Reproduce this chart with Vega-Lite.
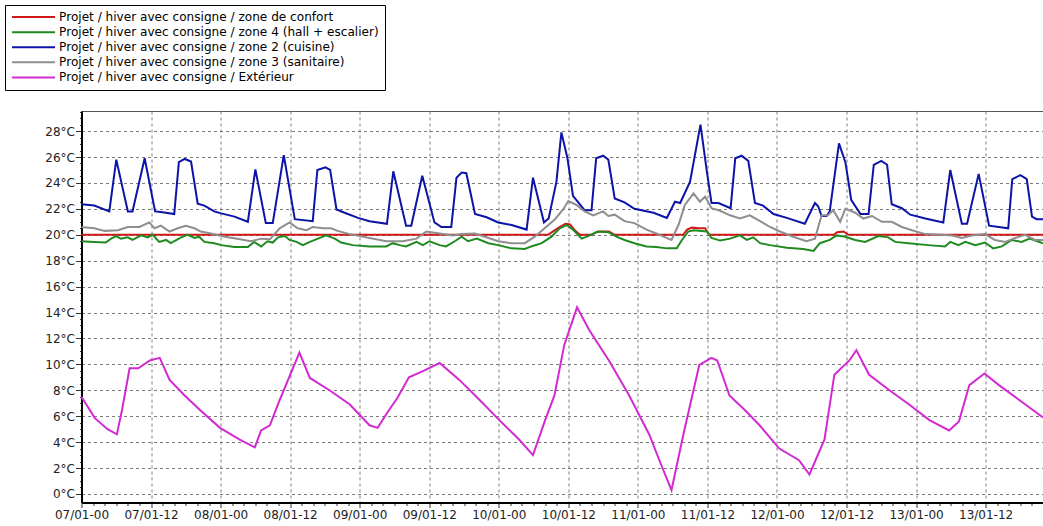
{
  "$schema": "https://vega.github.io/schema/vega-lite/v6.json",
  "width": 961.5,
  "height": 391.5,
  "autosize": {"type": "none"},
  "padding": {"left": 81.5, "top": 111, "right": 0, "bottom": 23.5},
  "background": "white",
  "config": {
    "font": "DejaVu Sans",
    "view": {"stroke": "#555555", "strokeWidth": 1}
  },
  "datasets": {
    "red": [
      {"h": 0, "t": 20}, {"h": 80.5, "t": 20}, {"h": 81.5, "t": 20.3}, {"h": 82.5, "t": 20.6}, {"h": 83.5, "t": 20.85}, {"h": 84.3, "t": 20.8}, {"h": 85.2, "t": 20.3}, {"h": 86, "t": 20}, {"h": 88, "t": 20}, {"h": 88.8, "t": 20.2}, {"h": 89.5, "t": 20.25}, {"h": 91, "t": 20.25}, {"h": 92, "t": 20}, {"h": 103.8, "t": 20}, {"h": 104.5, "t": 20.4}, {"h": 105.3, "t": 20.55}, {"h": 106.5, "t": 20.5}, {"h": 107.6, "t": 20.5}, {"h": 108.3, "t": 20}, {"h": 129.8, "t": 20}, {"h": 130.4, "t": 20.2}, {"h": 131.5, "t": 20.25}, {"h": 132.3, "t": 20}, {"h": 165.9, "t": 20}
    ],
    "green": [
      {"h": 0, "t": 19.5}, {"h": 2.2, "t": 19.45}, {"h": 4.2, "t": 19.4}, {"h": 5.1, "t": 19.7}, {"h": 6.0, "t": 19.9}, {"h": 6.8, "t": 19.7}, {"h": 8.0, "t": 19.8}, {"h": 8.8, "t": 19.6}, {"h": 10.3, "t": 19.95}, {"h": 11.4, "t": 19.8}, {"h": 12.3, "t": 20.0}, {"h": 13.4, "t": 19.45}, {"h": 14.6, "t": 19.6}, {"h": 15.4, "t": 19.35}, {"h": 17.2, "t": 19.8}, {"h": 18.3, "t": 20.0}, {"h": 19.5, "t": 19.75}, {"h": 20.3, "t": 19.85}, {"h": 21.2, "t": 19.45}, {"h": 22.9, "t": 19.35}, {"h": 24.1, "t": 19.2}, {"h": 26.4, "t": 19.05}, {"h": 28.7, "t": 19.05}, {"h": 29.8, "t": 19.45}, {"h": 31.0, "t": 19.1}, {"h": 32.1, "t": 19.5}, {"h": 33.0, "t": 19.4}, {"h": 33.9, "t": 19.8}, {"h": 35.1, "t": 19.9}, {"h": 35.9, "t": 19.6}, {"h": 37.1, "t": 19.45}, {"h": 38.2, "t": 19.2}, {"h": 39.4, "t": 19.45}, {"h": 40.8, "t": 19.7}, {"h": 42.2, "t": 19.95}, {"h": 43.7, "t": 19.7}, {"h": 44.8, "t": 19.4}, {"h": 46.8, "t": 19.2}, {"h": 49.7, "t": 19.1}, {"h": 52.6, "t": 19.1}, {"h": 53.7, "t": 19.35}, {"h": 54.9, "t": 19.2}, {"h": 56.0, "t": 19.1}, {"h": 57.8, "t": 19.45}, {"h": 58.9, "t": 19.2}, {"h": 60.05, "t": 19.5}, {"h": 61.8, "t": 19.2}, {"h": 62.9, "t": 19.1}, {"h": 64.4, "t": 19.5}, {"h": 65.6, "t": 19.85}, {"h": 66.7, "t": 19.5}, {"h": 68.2, "t": 19.7}, {"h": 70.2, "t": 19.35}, {"h": 71.9, "t": 19.2}, {"h": 74.2, "t": 18.95}, {"h": 76.5, "t": 18.9}, {"h": 77.6, "t": 19.1}, {"h": 79.4, "t": 19.35}, {"h": 81.1, "t": 19.85}, {"h": 82.5, "t": 20.5}, {"h": 83.7, "t": 20.75}, {"h": 84.8, "t": 20.4}, {"h": 86.3, "t": 19.7}, {"h": 87.7, "t": 19.95}, {"h": 89.1, "t": 20.25}, {"h": 90.9, "t": 20.2}, {"h": 92.3, "t": 19.85}, {"h": 93.7, "t": 19.6}, {"h": 95.4, "t": 19.35}, {"h": 97.5, "t": 19.1}, {"h": 99.2, "t": 19.05}, {"h": 101.0, "t": 18.95}, {"h": 102.7, "t": 18.95}, {"h": 103.6, "t": 19.6}, {"h": 104.7, "t": 20.25}, {"h": 105.6, "t": 20.35}, {"h": 107.9, "t": 20.25}, {"h": 108.7, "t": 19.75}, {"h": 110.2, "t": 19.55}, {"h": 111.9, "t": 19.7}, {"h": 113.6, "t": 19.95}, {"h": 114.8, "t": 19.6}, {"h": 115.9, "t": 19.8}, {"h": 117.1, "t": 19.35}, {"h": 118.8, "t": 19.2}, {"h": 121.7, "t": 19.0}, {"h": 124.5, "t": 18.9}, {"h": 126.3, "t": 18.75}, {"h": 127.4, "t": 19.35}, {"h": 129.1, "t": 19.6}, {"h": 130.3, "t": 19.95}, {"h": 131.8, "t": 19.85}, {"h": 133.5, "t": 19.6}, {"h": 135.2, "t": 19.45}, {"h": 137.5, "t": 19.9}, {"h": 139.2, "t": 19.8}, {"h": 140.4, "t": 19.45}, {"h": 142.7, "t": 19.35}, {"h": 146.1, "t": 19.2}, {"h": 149.0, "t": 19.1}, {"h": 149.9, "t": 19.45}, {"h": 151.3, "t": 19.2}, {"h": 152.5, "t": 19.45}, {"h": 154.2, "t": 19.2}, {"h": 155.9, "t": 19.4}, {"h": 157.3, "t": 18.95}, {"h": 158.8, "t": 19.1}, {"h": 160.5, "t": 19.6}, {"h": 162.2, "t": 19.45}, {"h": 163.6, "t": 19.7}, {"h": 165.9, "t": 19.35}
    ],
    "blue": [
      {"h": 0, "t": 22.35}, {"h": 2.2, "t": 22.25}, {"h": 4.8, "t": 21.8}, {"h": 6.0, "t": 25.8}, {"h": 8.0, "t": 21.8}, {"h": 8.8, "t": 21.8}, {"h": 10.9, "t": 25.9}, {"h": 12.7, "t": 21.8}, {"h": 13.7, "t": 21.75}, {"h": 16.0, "t": 21.6}, {"h": 16.8, "t": 25.6}, {"h": 17.8, "t": 25.85}, {"h": 18.9, "t": 25.65}, {"h": 20.05, "t": 22.4}, {"h": 21.2, "t": 22.25}, {"h": 22.9, "t": 21.8}, {"h": 24.1, "t": 21.65}, {"h": 26.4, "t": 21.4}, {"h": 28.7, "t": 21.0}, {"h": 30.0, "t": 25.05}, {"h": 31.8, "t": 20.9}, {"h": 33.0, "t": 20.9}, {"h": 34.9, "t": 26.15}, {"h": 36.8, "t": 21.2}, {"h": 39.9, "t": 21.05}, {"h": 40.7, "t": 25.0}, {"h": 42.1, "t": 25.2}, {"h": 42.9, "t": 25.0}, {"h": 44.0, "t": 21.95}, {"h": 45.4, "t": 21.7}, {"h": 47.7, "t": 21.3}, {"h": 49.7, "t": 21.05}, {"h": 52.7, "t": 20.85}, {"h": 53.8, "t": 24.9}, {"h": 56.0, "t": 20.7}, {"h": 56.9, "t": 20.7}, {"h": 58.8, "t": 24.55}, {"h": 60.9, "t": 20.95}, {"h": 62.1, "t": 20.6}, {"h": 63.8, "t": 20.6}, {"h": 64.7, "t": 24.4}, {"h": 65.6, "t": 24.8}, {"h": 66.4, "t": 24.75}, {"h": 67.9, "t": 21.6}, {"h": 69.9, "t": 21.35}, {"h": 71.9, "t": 20.95}, {"h": 74.2, "t": 20.75}, {"h": 76.8, "t": 20.4}, {"h": 77.9, "t": 24.4}, {"h": 79.8, "t": 20.95}, {"h": 80.6, "t": 21.25}, {"h": 81.95, "t": 24.1}, {"h": 82.8, "t": 27.9}, {"h": 83.85, "t": 25.9}, {"h": 84.8, "t": 23.0}, {"h": 86.8, "t": 21.9}, {"h": 88.0, "t": 21.9}, {"h": 88.8, "t": 25.9}, {"h": 90.0, "t": 26.1}, {"h": 90.9, "t": 25.8}, {"h": 92.0, "t": 22.8}, {"h": 93.7, "t": 22.5}, {"h": 95.4, "t": 22.0}, {"h": 98.7, "t": 21.7}, {"h": 101.0, "t": 21.3}, {"h": 102.4, "t": 22.55}, {"h": 103.3, "t": 22.45}, {"h": 105.0, "t": 24.1}, {"h": 106.8, "t": 28.5}, {"h": 107.9, "t": 24.9}, {"h": 108.7, "t": 22.45}, {"h": 109.9, "t": 22.45}, {"h": 112.0, "t": 22.05}, {"h": 112.8, "t": 25.9}, {"h": 113.9, "t": 26.1}, {"h": 115.05, "t": 25.7}, {"h": 116.2, "t": 22.45}, {"h": 117.6, "t": 22.25}, {"h": 119.4, "t": 21.6}, {"h": 121.7, "t": 21.3}, {"h": 124.8, "t": 20.85}, {"h": 126.55, "t": 22.45}, {"h": 127.1, "t": 22.2}, {"h": 127.7, "t": 21.45}, {"h": 128.55, "t": 21.45}, {"h": 129.1, "t": 21.8}, {"h": 130.7, "t": 27.05}, {"h": 131.8, "t": 25.6}, {"h": 132.3, "t": 24.2}, {"h": 132.8, "t": 22.7}, {"h": 134.4, "t": 21.6}, {"h": 135.8, "t": 21.6}, {"h": 136.7, "t": 25.4}, {"h": 138.0, "t": 25.7}, {"h": 139.0, "t": 25.4}, {"h": 139.8, "t": 22.35}, {"h": 141.55, "t": 22.05}, {"h": 143.0, "t": 21.55}, {"h": 145.6, "t": 21.25}, {"h": 148.7, "t": 20.95}, {"h": 149.9, "t": 25.0}, {"h": 151.9, "t": 20.85}, {"h": 152.8, "t": 20.85}, {"h": 154.8, "t": 24.7}, {"h": 156.6, "t": 20.7}, {"h": 159.9, "t": 20.5}, {"h": 160.6, "t": 24.3}, {"h": 162.0, "t": 24.6}, {"h": 163.1, "t": 24.3}, {"h": 164.0, "t": 21.4}, {"h": 164.8, "t": 21.2}, {"h": 165.9, "t": 21.2}
    ],
    "gray": [
      {"h": 0, "t": 20.6}, {"h": 2.2, "t": 20.5}, {"h": 4.0, "t": 20.3}, {"h": 6.3, "t": 20.35}, {"h": 8.0, "t": 20.6}, {"h": 10.0, "t": 20.6}, {"h": 11.7, "t": 20.95}, {"h": 12.6, "t": 20.5}, {"h": 13.7, "t": 20.7}, {"h": 15.2, "t": 20.25}, {"h": 16.6, "t": 20.5}, {"h": 18.0, "t": 20.7}, {"h": 19.5, "t": 20.5}, {"h": 20.6, "t": 20.25}, {"h": 22.3, "t": 20.1}, {"h": 24.7, "t": 19.85}, {"h": 26.9, "t": 19.7}, {"h": 29.2, "t": 19.5}, {"h": 31.0, "t": 19.7}, {"h": 32.5, "t": 19.65}, {"h": 34.2, "t": 20.5}, {"h": 35.9, "t": 20.95}, {"h": 37.3, "t": 20.5}, {"h": 38.8, "t": 20.35}, {"h": 39.9, "t": 20.6}, {"h": 41.7, "t": 20.5}, {"h": 43.1, "t": 20.5}, {"h": 44.2, "t": 20.3}, {"h": 46.3, "t": 20.05}, {"h": 49.7, "t": 19.75}, {"h": 52.6, "t": 19.5}, {"h": 55.4, "t": 19.5}, {"h": 57.8, "t": 19.7}, {"h": 59.5, "t": 20.25}, {"h": 61.8, "t": 20.1}, {"h": 64.1, "t": 19.95}, {"h": 65.6, "t": 20.05}, {"h": 67.9, "t": 20.1}, {"h": 69.6, "t": 19.85}, {"h": 71.9, "t": 19.5}, {"h": 74.2, "t": 19.35}, {"h": 76.5, "t": 19.35}, {"h": 78.2, "t": 19.85}, {"h": 79.9, "t": 20.5}, {"h": 81.7, "t": 21.2}, {"h": 83.1, "t": 21.95}, {"h": 84.0, "t": 22.6}, {"h": 85.4, "t": 22.3}, {"h": 86.8, "t": 21.8}, {"h": 88.3, "t": 21.5}, {"h": 90.0, "t": 21.8}, {"h": 90.9, "t": 21.45}, {"h": 92.0, "t": 21.55}, {"h": 93.7, "t": 21.05}, {"h": 95.4, "t": 20.9}, {"h": 97.5, "t": 20.4}, {"h": 99.2, "t": 20.1}, {"h": 100.4, "t": 19.85}, {"h": 101.8, "t": 19.6}, {"h": 103.0, "t": 20.75}, {"h": 104.1, "t": 22.3}, {"h": 105.6, "t": 23.2}, {"h": 106.7, "t": 22.55}, {"h": 107.6, "t": 22.95}, {"h": 108.7, "t": 22.05}, {"h": 110.2, "t": 21.85}, {"h": 111.9, "t": 21.5}, {"h": 113.6, "t": 21.25}, {"h": 115.3, "t": 21.5}, {"h": 117.1, "t": 21.05}, {"h": 118.8, "t": 20.6}, {"h": 120.5, "t": 20.25}, {"h": 122.8, "t": 19.85}, {"h": 125.1, "t": 19.5}, {"h": 126.55, "t": 19.7}, {"h": 127.7, "t": 21.5}, {"h": 128.8, "t": 21.5}, {"h": 129.7, "t": 21.9}, {"h": 130.9, "t": 21.0}, {"h": 131.8, "t": 22.0}, {"h": 133.5, "t": 21.7}, {"h": 134.9, "t": 21.25}, {"h": 136.4, "t": 21.45}, {"h": 138.1, "t": 21.0}, {"h": 139.8, "t": 21.0}, {"h": 141.55, "t": 20.6}, {"h": 143.3, "t": 20.35}, {"h": 145.6, "t": 20.05}, {"h": 148.4, "t": 20.0}, {"h": 150.2, "t": 19.95}, {"h": 151.9, "t": 19.75}, {"h": 153.6, "t": 19.95}, {"h": 155.9, "t": 20.05}, {"h": 157.6, "t": 19.6}, {"h": 159.4, "t": 19.45}, {"h": 161.1, "t": 19.75}, {"h": 162.8, "t": 20.0}, {"h": 164.5, "t": 19.6}, {"h": 165.9, "t": 19.6}
    ],
    "mag": [
      {"h": 0, "t": 7.5}, {"h": 2.3, "t": 5.85}, {"h": 4.5, "t": 5.0}, {"h": 6.1, "t": 4.6}, {"h": 7.0, "t": 6.5}, {"h": 8.3, "t": 9.7}, {"h": 9.8, "t": 9.7}, {"h": 11.8, "t": 10.3}, {"h": 13.5, "t": 10.5}, {"h": 15.2, "t": 8.8}, {"h": 17.8, "t": 7.6}, {"h": 20.4, "t": 6.5}, {"h": 23.9, "t": 5.1}, {"h": 27.3, "t": 4.2}, {"h": 29.9, "t": 3.6}, {"h": 31.0, "t": 4.9}, {"h": 32.5, "t": 5.3}, {"h": 34.2, "t": 7.25}, {"h": 37.6, "t": 10.9}, {"h": 39.4, "t": 8.95}, {"h": 42.8, "t": 8.0}, {"h": 46.3, "t": 6.9}, {"h": 49.7, "t": 5.3}, {"h": 51.1, "t": 5.1}, {"h": 52.8, "t": 6.3}, {"h": 54.5, "t": 7.4}, {"h": 56.5, "t": 9.0}, {"h": 59.0, "t": 9.5}, {"h": 61.8, "t": 10.1}, {"h": 65.2, "t": 8.8}, {"h": 68.7, "t": 7.25}, {"h": 72.1, "t": 5.7}, {"h": 75.5, "t": 4.2}, {"h": 77.9, "t": 3.0}, {"h": 80.0, "t": 5.7}, {"h": 81.6, "t": 7.6}, {"h": 83.3, "t": 11.5}, {"h": 85.5, "t": 14.4}, {"h": 87.6, "t": 12.65}, {"h": 91.0, "t": 10.3}, {"h": 94.5, "t": 7.6}, {"h": 98.0, "t": 4.55}, {"h": 99.7, "t": 2.6}, {"h": 101.8, "t": 0.3}, {"h": 104.0, "t": 4.9}, {"h": 106.6, "t": 9.95}, {"h": 108.7, "t": 10.5}, {"h": 109.7, "t": 10.3}, {"h": 111.8, "t": 7.6}, {"h": 114.4, "t": 6.5}, {"h": 117.0, "t": 5.3}, {"h": 120.4, "t": 3.5}, {"h": 123.8, "t": 2.6}, {"h": 125.6, "t": 1.5}, {"h": 128.2, "t": 4.2}, {"h": 129.9, "t": 9.2}, {"h": 132.5, "t": 10.3}, {"h": 133.7, "t": 11.1}, {"h": 135.9, "t": 9.2}, {"h": 139.4, "t": 8.0}, {"h": 142.8, "t": 6.9}, {"h": 146.3, "t": 5.7}, {"h": 149.7, "t": 4.9}, {"h": 151.4, "t": 5.6}, {"h": 153.2, "t": 8.4}, {"h": 155.8, "t": 9.3}, {"h": 158.3, "t": 8.4}, {"h": 161.8, "t": 7.25}, {"h": 165.9, "t": 5.9}
    ]
  },
  "encoding": {
    "x": {
      "field": "h",
      "type": "quantitative",
      "scale": {"domain": [0, 165.9], "nice": false, "zero": false},
      "axis": {
        "title": null,
        "values": [0, 2, 4, 6, 8, 10, 12, 14, 16, 18, 20, 22, 24, 26, 28, 30, 32, 34, 36, 38, 40, 42, 44, 46, 48, 50, 52, 54, 56, 58, 60, 62, 64, 66, 68, 70, 72, 74, 76, 78, 80, 82, 84, 86, 88, 90, 92, 94, 96, 98, 100, 102, 104, 106, 108, 110, 112, 114, 116, 118, 120, 122, 124, 126, 128, 130, 132, 134, 136, 138, 140, 142, 144, 146, 148, 150, 152, 154, 156, 158, 160, 162, 164],
        "labelExpr": "datum.value % 12 === 0 ? ((floor(datum.value / 24) + 7 < 10 ? '0' : '') + (floor(datum.value / 24) + 7) + '/01-' + (datum.value % 24 === 0 ? '00' : '12')) : ''",
        "labelOverlap": false,
        "labelFlush": false,
        "labelFontSize": 12,
        "labelColor": "#222222",
        "labelPadding": 2,
        "tickColor": "#333333",
        "tickSize": {"condition": {"test": "datum.value % 12 === 0", "value": 5}, "value": 3},
        "domainColor": "#000000",
        "domainWidth": 2,
        "grid": true,
        "gridColor": "#7a7a7a",
        "gridDash": [3, 3],
        "gridWidth": 1,
        "gridOpacity": {"condition": {"test": "datum.value % 12 === 0", "value": 1}, "value": 0}
      }
    },
    "y": {
      "field": "t",
      "type": "quantitative",
      "scale": {"domain": [-0.66, 29.55], "nice": false, "zero": false},
      "axis": {
        "title": null,
        "values": [0, 0.5, 1, 1.5, 2, 2.5, 3, 3.5, 4, 4.5, 5, 5.5, 6, 6.5, 7, 7.5, 8, 8.5, 9, 9.5, 10, 10.5, 11, 11.5, 12, 12.5, 13, 13.5, 14, 14.5, 15, 15.5, 16, 16.5, 17, 17.5, 18, 18.5, 19, 19.5, 20, 20.5, 21, 21.5, 22, 22.5, 23, 23.5, 24, 24.5, 25, 25.5, 26, 26.5, 27, 27.5, 28, 28.5, 29, 29.5],
        "labelExpr": "datum.value % 2 === 0 ? datum.value + '°C' : ''",
        "labelOverlap": false,
        "labelFontSize": 12,
        "labelColor": "#222222",
        "labelPadding": 1,
        "tickColor": "#333333",
        "tickSize": {"condition": {"test": "datum.value % 2 === 0", "value": 6}, "value": 2},
        "domainColor": "#000000",
        "domainWidth": 2,
        "grid": true,
        "gridColor": "#7a7a7a",
        "gridDash": [3, 3],
        "gridWidth": 1,
        "gridOpacity": {"condition": {"test": "datum.value % 2 === 0", "value": 1}, "value": 0}
      }
    }
  },
  "layer": [
    {
      "data": {"name": "red"},
      "mark": {"type": "line", "strokeWidth": 2},
      "encoding": {
        "color": {
          "datum": "Projet / hiver avec consigne / zone de confort",
          "type": "nominal",
          "scale": {
            "domain": ["Projet / hiver avec consigne / zone de confort", "Projet / hiver avec consigne / zone 4 (hall + escalier)", "Projet / hiver avec consigne / zone 2 (cuisine)", "Projet / hiver avec consigne / zone 3 (sanitaire)", "Projet / hiver avec consigne / Extérieur"],
            "range": ["#d01818", "#1f8a1f", "#0c14a8", "#8e8e8e", "#d22ad2"]
          },
          "legend": {
            "orient": "none",
            "legendX": -76.5,
            "legendY": -106,
            "title": null,
            "symbolType": "M-1,0H7.6",
            "symbolSize": 100,
            "symbolStrokeWidth": 2,
            "labelFontSize": 12.1,
            "labelColor": "#000000",
            "labelOffset": 36,
            "labelLimit": 500,
            "rowPadding": 2.1,
            "padding": 6,
            "strokeColor": "#000000",
            "fillColor": "#ffffff"
          }
        }
      }
    },
    {
      "data": {"name": "green"},
      "mark": {"type": "line", "strokeWidth": 2},
      "encoding": {
        "color": {
          "datum": "Projet / hiver avec consigne / zone 4 (hall + escalier)",
          "type": "nominal",
          "scale": {
            "domain": ["Projet / hiver avec consigne / zone de confort", "Projet / hiver avec consigne / zone 4 (hall + escalier)", "Projet / hiver avec consigne / zone 2 (cuisine)", "Projet / hiver avec consigne / zone 3 (sanitaire)", "Projet / hiver avec consigne / Extérieur"],
            "range": ["#d01818", "#1f8a1f", "#0c14a8", "#8e8e8e", "#d22ad2"]
          }
        }
      }
    },
    {
      "data": {"name": "blue"},
      "mark": {"type": "line", "strokeWidth": 2},
      "encoding": {
        "color": {
          "datum": "Projet / hiver avec consigne / zone 2 (cuisine)",
          "type": "nominal",
          "scale": {
            "domain": ["Projet / hiver avec consigne / zone de confort", "Projet / hiver avec consigne / zone 4 (hall + escalier)", "Projet / hiver avec consigne / zone 2 (cuisine)", "Projet / hiver avec consigne / zone 3 (sanitaire)", "Projet / hiver avec consigne / Extérieur"],
            "range": ["#d01818", "#1f8a1f", "#0c14a8", "#8e8e8e", "#d22ad2"]
          }
        }
      }
    },
    {
      "data": {"name": "gray"},
      "mark": {"type": "line", "strokeWidth": 2},
      "encoding": {
        "color": {
          "datum": "Projet / hiver avec consigne / zone 3 (sanitaire)",
          "type": "nominal",
          "scale": {
            "domain": ["Projet / hiver avec consigne / zone de confort", "Projet / hiver avec consigne / zone 4 (hall + escalier)", "Projet / hiver avec consigne / zone 2 (cuisine)", "Projet / hiver avec consigne / zone 3 (sanitaire)", "Projet / hiver avec consigne / Extérieur"],
            "range": ["#d01818", "#1f8a1f", "#0c14a8", "#8e8e8e", "#d22ad2"]
          }
        }
      }
    },
    {
      "data": {"name": "mag"},
      "mark": {"type": "line", "strokeWidth": 2},
      "encoding": {
        "color": {
          "datum": "Projet / hiver avec consigne / Extérieur",
          "type": "nominal",
          "scale": {
            "domain": ["Projet / hiver avec consigne / zone de confort", "Projet / hiver avec consigne / zone 4 (hall + escalier)", "Projet / hiver avec consigne / zone 2 (cuisine)", "Projet / hiver avec consigne / zone 3 (sanitaire)", "Projet / hiver avec consigne / Extérieur"],
            "range": ["#d01818", "#1f8a1f", "#0c14a8", "#8e8e8e", "#d22ad2"]
          }
        }
      }
    }
  ]
}
